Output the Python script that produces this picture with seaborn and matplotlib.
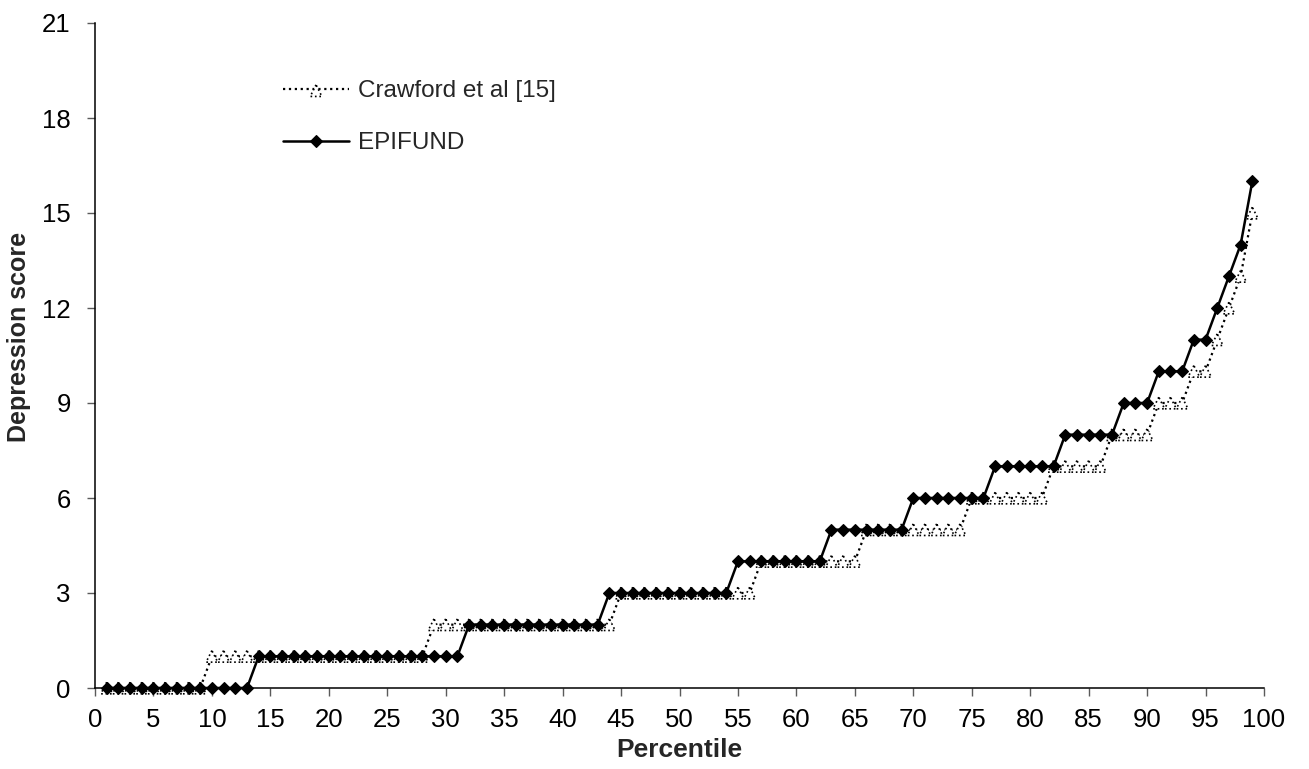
import numpy as np
import pandas as pd
import matplotlib
matplotlib.use("Agg")
import matplotlib.pyplot as plt
import seaborn as sns

# ---- data ----
percentile = list(range(1, 100))
epifund = ([0] * 13 + [1] * 18 + [2] * 12 + [3] * 11 + [4] * 8 + [5] * 7 + [6] * 7 +
           [7] * 6 + [8] * 5 + [9] * 3 + [10] * 3 + [11] * 2 + [12, 13, 14, 16])
crawford = ([0] * 9 + [1] * 19 + [2] * 16 + [3] * 12 + [4] * 9 + [5] * 9 + [6] * 7 +
            [7] * 5 + [8] * 4 + [9] * 3 + [10] * 2 + [11, 12, 13, 15])
x_ticks = list(range(0, 101, 5))
y_ticks = list(range(0, 22, 3))
label_crawford = "Crawford et al [15]"
label_epifund = "EPIFUND"

df = pd.DataFrame({"Percentile": percentile, "EPIFUND": epifund, "Crawford": crawford})

sns.set_theme(style="white")
plt.rcParams["font.family"] = ["Liberation Sans", "DejaVu Sans"]
FS_TICK = 18.5
FS_XLABEL = 19
FS_YLABEL = 18
FS_LEG = 17.5

fig = plt.figure(figsize=(13.09, 7.69), dpi=100)
W, H = 1309, 769
ax = fig.add_axes([95 / W, (H - 688) / H, (1264 - 95) / W, (688 - 23) / H])

# Crawford: dotted line + hollow dotted triangles
sns.lineplot(data=df, x="Percentile", y="Crawford", ax=ax, color="black",
             linestyle=":", linewidth=1.6, zorder=2, clip_on=False)
crawford_line = ax.lines[-1]
sns.scatterplot(data=df, x="Percentile", y="Crawford", ax=ax, marker="^", s=70,
                facecolor="white", edgecolor="black", linewidth=1.2,
                linestyle=":", zorder=3, clip_on=False)
crawford_pts = ax.collections[-1]

# EPIFUND: solid line with diamonds
sns.lineplot(data=df, x="Percentile", y="EPIFUND", ax=ax, color="black",
             linewidth=1.8, marker="D", markersize=6.2, markeredgewidth=0.8,
             markerfacecolor="black", markeredgecolor="black", zorder=4, clip_on=False)
epi_line = ax.lines[-1]

ax.set_xlim(0, 100)
ax.set_ylim(0, 21)
ax.set_xticks(x_ticks)
ax.set_yticks(y_ticks)
ax.tick_params(axis="both", labelsize=FS_TICK, labelcolor="black", length=6,
               width=1.0, direction="out", color="#5a5a5a")
ax.tick_params(axis="x", pad=8.5)
ax.tick_params(axis="y", pad=11.5)
ax.xaxis.set_ticks_position("bottom")
ax.yaxis.set_ticks_position("left")

for side in ["top", "right"]:
    ax.spines[side].set_visible(False)
for side in ["left", "bottom"]:
    ax.spines[side].set_color("black")
    ax.spines[side].set_linewidth(1.1)

ax.set_xlabel("Percentile", fontsize=FS_XLABEL, fontweight="bold")
ax.set_ylabel("Depression score", fontsize=FS_YLABEL, fontweight="bold")
ax.xaxis.set_label_coords(0.5, -0.0746)
ax.yaxis.set_label_coords(-0.0545, 0.528)

leg = ax.legend(handles=[(crawford_line, crawford_pts), epi_line],
                labels=[label_crawford, label_epifund],
                loc="upper left", bbox_to_anchor=(283 / W, 1 - 80 / H),
                bbox_transform=fig.transFigure, frameon=False, fontsize=FS_LEG,
                handlelength=2.72, handletextpad=0.37, labelspacing=1.25,
                borderpad=0, borderaxespad=0, scatterpoints=1)

fig.savefig("out.png", dpi=100, facecolor="white")
